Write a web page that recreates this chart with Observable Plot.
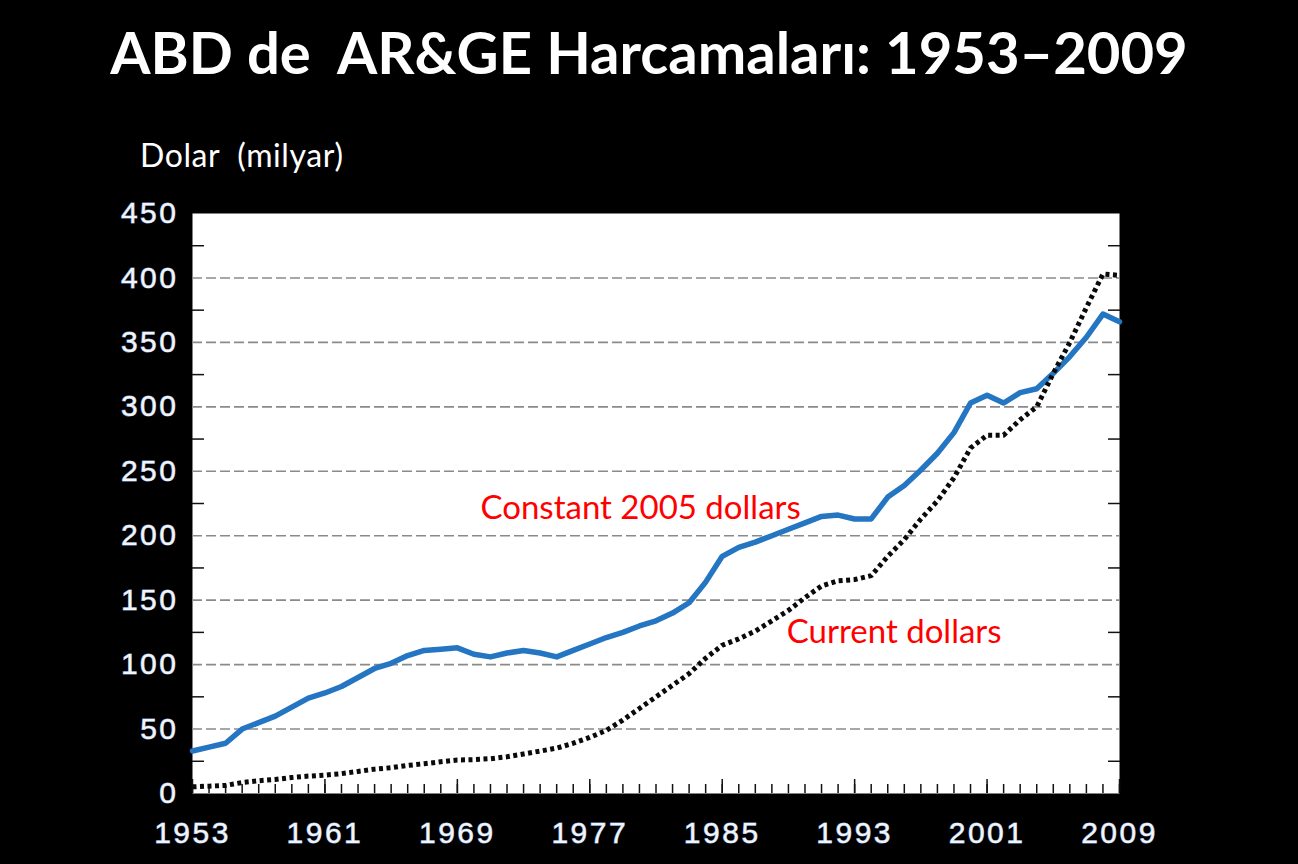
<!DOCTYPE html>
<html><head><meta charset="utf-8">
<script src="https://cdn.jsdelivr.net/npm/d3@7"></script>
<script src="https://cdn.jsdelivr.net/npm/@observablehq/plot@0.6"></script>
<style>
html,body{margin:0;padding:0;background:#000;}
body{width:1298px;height:864px;overflow:hidden;position:relative;}
#title{position:absolute;left:0;top:14px;width:1298px;text-align:center;color:#fff;font-family:Lato;font-weight:bold;font-size:58px;line-height:76px;white-space:pre;}
#sub{position:absolute;left:140px;top:135px;color:#fff;font-family:Lato;font-size:32px;letter-spacing:0.6px;line-height:40px;white-space:pre;}
#chart{position:absolute;left:0;top:190px;}
g[aria-label="x-axis tick label"] text, g[aria-label="y-axis tick label"] text{letter-spacing:2.5px;stroke:#7f9fd0;stroke-width:1px;paint-order:stroke;}
</style></head>
<body>
<div id="title">ABD de  AR&amp;GE Harcamaları: 1953–2009</div>
<div id="sub">Dolar  (milyar)</div>
<div id="chart"></div>
<script>
// Years 1953–2009
const years = d3.range(1953, 2010);
// Constant 2005 dollars (billions)
const constant2005 = [33,36,39,50,55,60,67,74,78,83,90,97,101,107,111,112,113,108,106,109,111,109,106,111,116,121,125,130,134,140,148,164,184,191,195,200,205,210,215,216,213,213,230,239,251,264,280,303,309,303,311,314,326,339,354,372,366];
// Current dollars (billions)
const current = [5.2,5.7,6.3,8.5,9.9,10.9,12.4,13.5,14.3,15.4,17.1,18.9,20.0,21.8,23.1,24.6,26.0,26.3,27.0,28.5,30.7,32.9,35.2,39.0,43.5,49,57,66,75,84,93,105,115,120,126,134,142,152,161,165,166,169,184,197,213,227,245,268,278,278,290,300,326,350,377,403,402];
// Tick labels
const xTickLabels = [1953,1961,1969,1977,1985,1993,2001,2009];
const yTickLabels = [0,50,100,150,200,250,300,350,400,450];
const yGrid = [50,100,150,200,250,300,350,400];
const yMinor = [25,75,125,175,225,275,325,375,425];
// Annotations
const annoText = ["Constant 2005 dollars","Current dollars"];
const annoYear = [1970.4,1988.9];
const annoValue = [221,125];

const constRows = years.map((y,i)=>({year:y, value:constant2005[i]}));
const currRows = years.map((y,i)=>({year:y, value:current[i]}));
const annos = annoText.map((t,i)=>({text:t, year:annoYear[i], value:annoValue[i]}));

const labelFont = {fill:"#f4f4f4", fontSize:30, fontFamily:"Liberation Sans", label:null};

const chart = Plot.plot({
  width:1298, height:674,
  marginLeft:192, marginRight:179, marginTop:23, marginBottom:71,
  x:{domain:[1953,2009], label:null},
  y:{domain:[0,450], label:null},
  style:{background:"transparent", overflow:"visible"},
  marks:[
    Plot.frame({fill:"white", stroke:null}),
    Plot.gridY(yGrid, {stroke:"#8a8a8a", strokeOpacity:1, strokeWidth:1.6, strokeDasharray:"10,4"}),
    Plot.axisY(yMinor, {anchor:"left", tickSize:-12, tickFormat:()=>"", stroke:"#111", strokeWidth:1.5, label:null}),
    Plot.axisY(yMinor, {anchor:"right", tickSize:-12, tickFormat:()=>"", stroke:"#111", strokeWidth:1.5, label:null}),
    Plot.axisY(yTickLabels, {anchor:"left", tickSize:0, tickPadding:14, ...labelFont}),
    Plot.axisX(years, {anchor:"bottom", tickSize:-9, tickFormat:()=>"", stroke:"#111", strokeWidth:1.5, label:null}),
    Plot.axisX(xTickLabels, {anchor:"bottom", tickSize:-14, tickFormat:()=>"", stroke:"#111", strokeWidth:1.5, label:null}),
    Plot.axisX(xTickLabels, {anchor:"bottom", tickSize:0, tickPadding:28, tickFormat:d=>String(d), ...labelFont}),
    Plot.line(constRows, {x:"year", y:"value", stroke:"#2475c2", strokeWidth:5.5, strokeLinejoin:"round"}),
    Plot.line(currRows, {x:"year", y:"value", stroke:"#0a0a0a", strokeWidth:5, strokeDasharray:"4,3.5", strokeLinecap:"butt"}),
    Plot.text(annos, {x:"year", y:"value", text:"text", fill:"#ff0000", fontSize:33, fontFamily:"Lato", textAnchor:"start"})
  ]
});
document.getElementById("chart").appendChild(chart);
</script>
</body></html>
